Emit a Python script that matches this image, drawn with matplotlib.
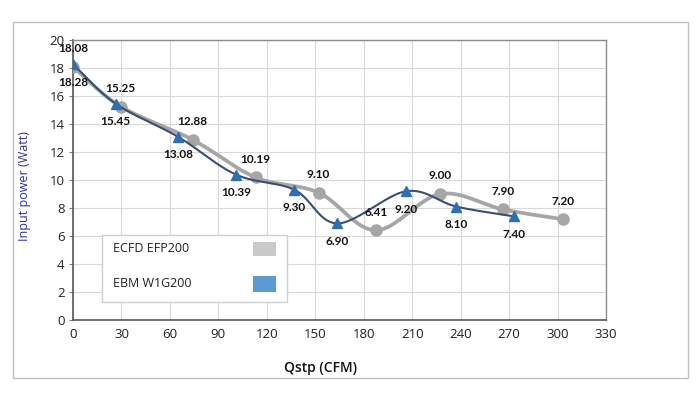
import matplotlib.pyplot as plt
import numpy as np
from matplotlib.patches import Rectangle

# Data
ecfd_q = [0, 29.5, 74.0, 113.0, 152.0, 187.4, 227.4, 266.1, 303.2]
ecfd_p = [18.08, 15.25, 12.88, 10.19, 9.10, 6.41, 9.00, 7.90, 7.20]

ebm_q = [0, 26.4, 65.1, 100.8, 137.1, 163.7, 206.4, 237.3, 273.3]
ebm_p = [18.28, 15.45, 13.08, 10.39, 9.30, 6.90, 9.20, 8.10, 7.40]

x_ticks = list(range(0, 331, 30))
y_ticks = list(range(0, 21, 2))

plt.rcParams["font.family"] = ["Open Sans", "DejaVu Sans"]


def smooth(xs, ys, sx=1.617, sy=14.0, n=24):
    # Excel-like smoothed line: Catmull-Rom segments as cubic Bezier
    p = np.column_stack([np.asarray(xs) * sx, np.asarray(ys) * sy])
    out = [p[0]]
    for i in range(len(p) - 1):
        p0 = p[i - 1] if i > 0 else p[i]
        p1, p2 = p[i], p[i + 1]
        p3 = p[i + 2] if i + 2 < len(p) else p[i + 1]
        c1 = p1 + (p2 - p0) / 6
        c2 = p2 - (p3 - p1) / 6
        t = np.linspace(0, 1, n)[1:, None]
        seg = (1 - t) ** 3 * p1 + 3 * (1 - t) ** 2 * t * c1 + 3 * (1 - t) * t**2 * c2 + t**3 * p2
        out.extend(seg)
    out = np.array(out)
    return out[:, 0] / sx, out[:, 1] / sy


fig = plt.figure(figsize=(7, 4), dpi=100)
fig.patches.append(
    Rectangle((0.0186, 0.055), 0.9643, 0.89, transform=fig.transFigure,
              facecolor="none", edgecolor="#c0c0c0", linewidth=1.0)
)
ax = fig.add_axes([0.1043, 0.2, 0.7614, 0.7])

gray = "#a6a6a6"
navy = "#3a4f72"
tri = "#2e6fb0"

sx_, sy_ = smooth(ecfd_q, ecfd_p)
ax.plot(sx_, sy_, color=gray, linewidth=2.7, zorder=3, solid_capstyle="round")
ax.plot(ecfd_q, ecfd_p, linestyle="none", marker="o", markersize=8,
        color=gray, zorder=4)

sx_, sy_ = smooth(ebm_q, ebm_p)
ax.plot(sx_, sy_, color=navy, linewidth=1.5, zorder=5)
ax.plot(ebm_q, ebm_p, linestyle="none", marker="^", markersize=7,
        color=tri, markeredgecolor=tri, zorder=6)

for q, p in zip(ecfd_q, ecfd_p):
    ax.annotate(f"{p:.2f}", (q, p), xytext=(0, 13), textcoords="offset points",
                ha="center", va="center", fontsize=8.5, fontweight="bold",
                family=["Lato", "DejaVu Sans"], color="#111111", zorder=7)
for q, p in zip(ebm_q, ebm_p):
    ax.annotate(f"{p:.2f}", (q, p), xytext=(0, -13), textcoords="offset points",
                ha="center", va="center", fontsize=8.5, fontweight="bold",
                family=["Lato", "DejaVu Sans"], color="#111111", zorder=7)

ax.set_xlim(0, 330)
ax.set_ylim(0, 20)
ax.set_xticks(x_ticks)
ax.set_yticks(y_ticks)
ax.grid(True, color="#d9d9d9", linewidth=0.8, zorder=0)
ax.set_axisbelow(True)
ax.tick_params(axis="both", labelsize=9.5, colors="#7f7f7f", labelcolor="#222222")
ax.tick_params(axis="x", length=0, pad=6)
ax.tick_params(axis="y", length=3, pad=3)
for side in ["left", "bottom"]:
    ax.spines[side].set_color("#595959")
    ax.spines[side].set_linewidth(1.2)
for side in ["top", "right"]:
    ax.spines[side].set_color("#8c8c8c")
    ax.spines[side].set_linewidth(1.0)

ax.set_ylabel("Input power (Watt)", fontsize=9, color="#2e2e9e", labelpad=8)
ax.yaxis.set_label_coords(-0.078, 0.48)
ax.set_xlabel("Qstp (CFM)", fontsize=10, fontweight="semibold", color="#111111")
ax.xaxis.set_label_coords(0.465, -0.145)

# Legend box, label left and swatch right
ax.add_patch(Rectangle((0.054, 0.064), 0.348, 0.24, transform=ax.transAxes,
                       facecolor="white", edgecolor="#d0d0d0", linewidth=1.0,
                       zorder=8))
ax.text(0.075, 0.254, "ECFD EFP200", transform=ax.transAxes, fontsize=9,
        va="center", ha="left", zorder=9, color="#222222")
ax.text(0.075, 0.129, "EBM W1G200", transform=ax.transAxes, fontsize=9,
        va="center", ha="left", zorder=9, color="#222222")
ax.add_patch(Rectangle((0.338, 0.229), 0.043, 0.05, transform=ax.transAxes,
                       facecolor="#c9c9c9", edgecolor="none", zorder=9))
ax.add_patch(Rectangle((0.338, 0.1), 0.043, 0.057, transform=ax.transAxes,
                       facecolor="#5b9bd5", edgecolor="none", zorder=9))

fig.savefig("out.png", dpi=100)
